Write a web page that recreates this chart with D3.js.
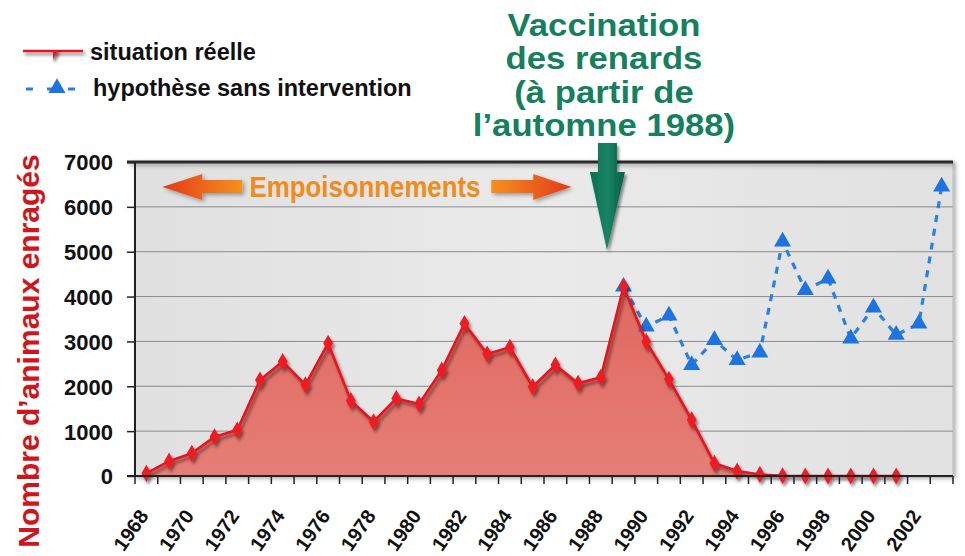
<!DOCTYPE html>
<html><head><meta charset="utf-8">
<script src="https://cdn.jsdelivr.net/npm/d3@7"></script>
<style>body{margin:0;background:#fff}svg{display:block}text{font-family:"Liberation Sans",Arial,sans-serif}</style>
</head><body>
<svg id="c" width="965" height="556"></svg>
<script>
// ---- data ----
const categories = ["1968","1969","1970","1971","1972","1973","1974","1975","1976","1977","1978","1979","1980","1981","1982","1983","1984","1985","1986","1987","1988","1989","1990","1991","1992","1993","1994","1995","1996","1997","1998","1999","2000","2001","2002","2003"];
const realYears = ["1968","1969","1970","1971","1972","1973","1974","1975","1976","1977","1978","1979","1980","1981","1982","1983","1984","1985","1986","1987","1988","1989","1990","1991","1992","1993","1994","1995","1996","1997","1998","1999","2000","2001"];
const realValues = [60,330,505,875,1025,2140,2550,2030,2960,1680,1210,1730,1605,2360,3400,2720,2870,1990,2475,2065,2200,4220,2995,2155,1250,283,110,35,5,0,0,0,0,0];
const hypoYears = ["1989","1990","1991","1992","1993","1994","1995","1996","1997","1998","1999","2000","2001","2002","2003"];
const hypoValues = [4220,3330,3575,2475,3030,2585,2750,5225,4145,4400,3065,3755,3145,3400,6450];
const xTickLabels = ["1968","1970","1972","1974","1976","1978","1980","1982","1984","1986","1988","1990","1992","1994","1996","1998","2000","2002"];
const yTicks = [0,1000,2000,3000,4000,5000,6000,7000];
const seriesNames = ["situation réelle","hypothèse sans intervention"];
const yTitle = "Nombre d’animaux enragés";
const titleLines = ["Vaccination","des renards","(à partir de","l’automne 1988)"];
const periodLabel = "Empoisonnements";

const real = realYears.map((y,i)=>({year:y,value:realValues[i]}));
const hypo = hypoYears.map((y,i)=>({year:y,value:hypoValues[i]}));

const svg = d3.select("#c");
const L=135, R=953, T=162, B=476;
const x = d3.scaleBand().domain(categories).range([L,R]);
const bw = x.bandwidth();
const cx = d => x(d)+bw/2;
const y = d3.scaleLinear().domain([0,7000]).range([B,T]);

const defs = svg.append("defs");
const sh = defs.append("filter").attr("id","sh").attr("filterUnits","userSpaceOnUse")
  .attr("x",0).attr("y",0).attr("width",965).attr("height",556);
sh.append("feDropShadow").attr("dx",2).attr("dy",3).attr("stdDeviation",1.8).attr("flood-color","#000").attr("flood-opacity",0.45);
const sh2 = defs.append("filter").attr("id","sh2").attr("filterUnits","userSpaceOnUse")
  .attr("x",0).attr("y",0).attr("width",965).attr("height",556);
sh2.append("feDropShadow").attr("dx",2).attr("dy",2).attr("stdDeviation",2).attr("flood-color","#000").attr("flood-opacity",0.35);
const bg = defs.append("linearGradient").attr("id","bg").attr("x1",0).attr("x2",1).attr("y1",0).attr("y2",0);
bg.append("stop").attr("offset","0%").attr("stop-color","#e0e0e0");
bg.append("stop").attr("offset","50%").attr("stop-color","#eaeaea");
bg.append("stop").attr("offset","100%").attr("stop-color","#e1e1e1");
const ar = defs.append("linearGradient").attr("id","areaG").attr("x1",0).attr("x2",0).attr("y1",0).attr("y2",1);
ar.append("stop").attr("offset","0%").attr("stop-color","#df6860");
ar.append("stop").attr("offset","100%").attr("stop-color","#e67e75");
const ogL = defs.append("linearGradient").attr("id","ogL").attr("x1",0).attr("x2",1).attr("y1",0).attr("y2",0);
ogL.append("stop").attr("offset","0%").attr("stop-color","#e23a1c");
ogL.append("stop").attr("offset","100%").attr("stop-color","#f6901e");
const ogR = defs.append("linearGradient").attr("id","ogR").attr("x1",0).attr("x2",1).attr("y1",0).attr("y2",0);
ogR.append("stop").attr("offset","0%").attr("stop-color","#f6901e");
ogR.append("stop").attr("offset","100%").attr("stop-color","#e23a1c");
const gg = defs.append("linearGradient").attr("id","gg").attr("x1",0).attr("x2",1).attr("y1",0).attr("y2",0);
gg.append("stop").attr("offset","0%").attr("stop-color","#0d6f52");
gg.append("stop").attr("offset","50%").attr("stop-color","#168563");
gg.append("stop").attr("offset","100%").attr("stop-color","#0a5e45");

// plot background
svg.append("rect").attr("x",L).attr("y",T).attr("width",R-L).attr("height",B-T)
  .attr("fill","url(#bg)").attr("stroke","#b8b8b8").attr("stroke-width",1).attr("filter","url(#sh2)");

// gridlines
svg.append("g").selectAll("line").data(yTicks.filter(v=>v>0 && v<7000)).join("line")
  .attr("x1",L).attr("x2",R).attr("y1",d=>y(d)).attr("y2",d=>y(d))
  .attr("stroke","#8c8c8c").attr("stroke-width",1);

// area
svg.append("path").datum(real)
  .attr("d",d3.area().x(d=>cx(d.year)).y0(y(0)).y1(d=>y(d.value)))
  .attr("fill","url(#areaG)");

// top border
svg.append("line").attr("x1",L-8).attr("x2",R).attr("y1",T).attr("y2",T)
  .attr("stroke","#2a2a2a").attr("stroke-width",3).attr("filter","url(#sh2)");

// hypothesis line
const gh = svg.append("g");
gh.append("path").datum(hypo)
  .attr("d",d3.line().x(d=>cx(d.year)).y(d=>y(d.value)))
  .attr("fill","none").attr("stroke","#2a80e4").attr("stroke-width",3.2).attr("stroke-dasharray","7,7");
const tri = d3.symbol().type(d3.symbolTriangle).size(125);
gh.selectAll("path.t").data(hypo).join("path").attr("class","t")
  .attr("d",tri).attr("transform",d=>`translate(${cx(d.year)},${y(d.value)})`)
  .attr("fill","#1d74e0");

// real line + markers
const gr = svg.append("g").attr("filter","url(#sh)");
gr.append("path").datum(real)
  .attr("d",d3.line().x(d=>cx(d.year)).y(d=>y(d.value)))
  .attr("fill","none").attr("stroke","#e8121c").attr("stroke-width",2.6).attr("stroke-linejoin","round");
const dia = d3.symbol().type(d3.symbolDiamond).size(85);
gr.selectAll("path.d").data(real).join("path").attr("class","d")
  .attr("d",dia).attr("transform",d=>`translate(${cx(d.year)},${y(d.value)})`)
  .attr("fill","#ee1c24");

// axes
svg.append("line").attr("x1",L).attr("x2",L).attr("y1",T).attr("y2",B).attr("stroke","#222").attr("stroke-width",2);
svg.append("line").attr("x1",L-8).attr("x2",R).attr("y1",B).attr("y2",B).attr("stroke","#222").attr("stroke-width",2);
const yAx = svg.append("g").attr("transform",`translate(${L},0)`)
  .call(d3.axisLeft(y).tickValues(yTicks).tickSize(8).tickPadding(14).tickFormat(d3.format("d")));
yAx.select(".domain").remove();
yAx.selectAll(".tick line").attr("stroke","#222").attr("stroke-width",1.5);
yAx.selectAll(".tick text").attr("font-size","22px").attr("font-weight","bold").attr("fill","#111")
  .attr("font-family","'Liberation Sans',Arial,sans-serif").attr("dy","0.36em");

const boundaries = categories.map(c=>x(c)).concat([R]);
svg.append("g").selectAll("line").data(boundaries).join("line")
  .attr("x1",d=>d).attr("x2",d=>d).attr("y1",B).attr("y2",B+8)
  .attr("stroke","#222").attr("stroke-width",1.5);
svg.append("g").selectAll("text").data(xTickLabels).join("text")
  .attr("transform",d=>`translate(${cx(d)+3},${B+40}) rotate(-55)`)
  .attr("text-anchor","end").attr("font-size","20px").attr("font-weight","bold").attr("fill","#111")
  .text(d=>d);

// y title
svg.append("text").attr("transform",`translate(39,351) rotate(-90)`)
  .attr("text-anchor","middle").attr("font-size","30px").attr("font-weight","bold").attr("fill","#d0161c")
  .text(yTitle);

// legend
const lg = svg.append("g");
lg.append("line").attr("x1",23).attr("x2",83).attr("y1",51).attr("y2",51).attr("stroke","#e8121c").attr("stroke-width",2.6).attr("filter","url(#sh)");
lg.append("path").attr("d",dia).attr("transform","translate(53,51)").attr("fill","#ee1c24").attr("filter","url(#sh)");
lg.append("text").attr("x",90).attr("y",60).attr("font-size","23.5px").attr("font-weight","bold").attr("fill","#111").text(seriesNames[0]);
lg.append("line").attr("x1",26).attr("x2",76).attr("y1",89).attr("y2",89).attr("stroke","#2a80e4").attr("stroke-width",3.2).attr("stroke-dasharray","7,14,7,14,7");
lg.append("path").attr("d",tri).attr("transform","translate(57,88)").attr("fill","#1d74e0");
lg.append("text").attr("x",93).attr("y",96).attr("font-size","23.5px").attr("font-weight","bold").attr("fill","#111").text(seriesNames[1]);

// green title
const tg = svg.append("g").attr("transform","translate(604,0) scale(1.12,1)");
tg.selectAll("text").data(titleLines).join("text")
  .attr("x",0).attr("y",(d,i)=>36+i*33.5).attr("text-anchor","middle")
  .attr("font-size","31px").attr("font-weight","bold").attr("fill","#16805e").text(d=>d);

// green arrow (autumn 1988)
const ax = x("1988")+bw*0.77;
svg.append("path")
  .attr("d",`M${ax-9},143 L${ax+10},143 L${ax+10},172 L${ax+18},172 L${ax},250 L${ax-17},172 L${ax-9},172 Z`)
  .attr("fill","url(#gg)").attr("filter","url(#sh)");

// orange period arrows
const ay = 187;
const lx = x("1969")+bw*0.2, rx = x("1987")+bw*0.2;
svg.append("path")
  .attr("d",`M${lx},${ay} L${lx+40},${ay-13} L${lx+40},${ay-7} L${lx+80},${ay-7} L${lx+80},${ay+6} L${lx+40},${ay+6} L${lx+40},${ay+13} Z`)
  .attr("fill","url(#ogL)").attr("filter","url(#sh2)");
svg.append("path")
  .attr("d",`M${rx},${ay} L${rx-38},${ay-13} L${rx-38},${ay-7} L${rx-80},${ay-7} L${rx-80},${ay+6} L${rx-38},${ay+6} L${rx-38},${ay+13} Z`)
  .attr("fill","url(#ogR)").attr("filter","url(#sh2)");
svg.append("text").attr("transform",`translate(365,197) scale(0.89,1)`).attr("text-anchor","middle")
  .attr("font-size","29px").attr("font-weight","bold").attr("fill","#f28a1c").text(periodLabel);
</script>
</body></html>
